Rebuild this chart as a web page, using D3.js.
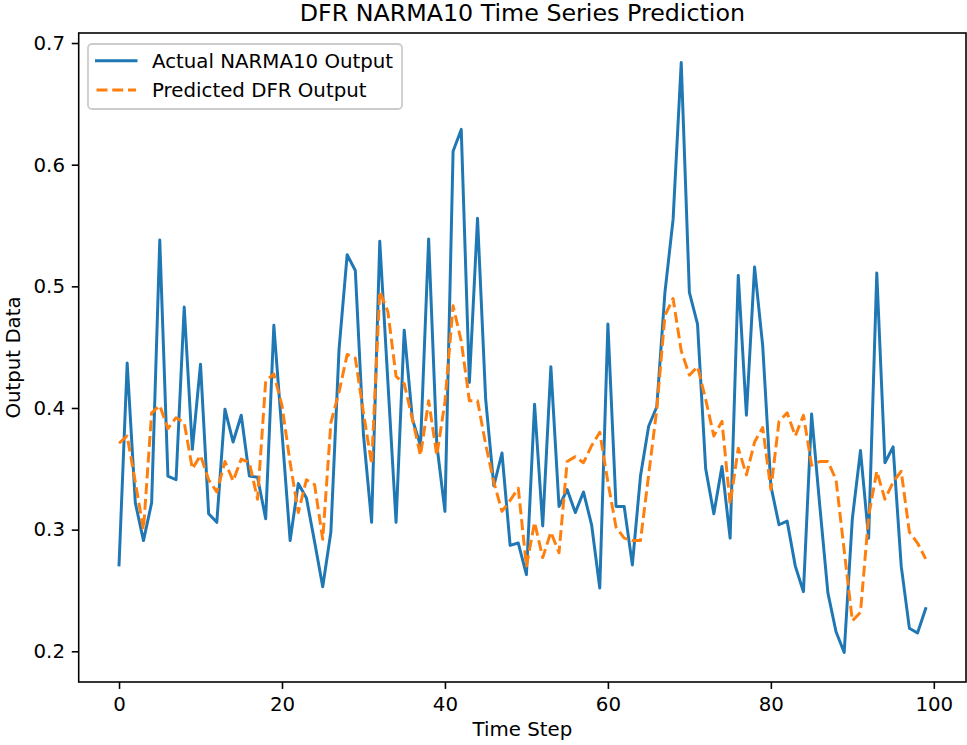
<!DOCTYPE html>
<html>
<head>
<meta charset="utf-8">
<script src="https://d3js.org/d3.v7.min.js"></script>
<style>
  body { margin: 0; background: #ffffff; }
  svg { display: block; font-family: 'DejaVu Sans', sans-serif; }
</style>
</head>
<body>
<div id="chart"></div>
<script>
// values
let timeSteps = d3.range(100);

let actualOutput = [
  0.271, 0.437, 0.322, 0.291, 0.322, 0.538, 0.344, 0.341, 0.483, 0.366,
  0.436, 0.313, 0.306, 0.399, 0.372, 0.394, 0.344, 0.343, 0.309, 0.468,
  0.380, 0.291, 0.338, 0.326, 0.290, 0.253, 0.298, 0.448, 0.526, 0.513,
  0.378, 0.306, 0.537, 0.421, 0.306, 0.464, 0.391, 0.369, 0.539, 0.370,
  0.315, 0.611, 0.629, 0.421, 0.556, 0.407, 0.336, 0.363, 0.287, 0.289,
  0.263, 0.403, 0.303, 0.434, 0.319, 0.333, 0.314, 0.331, 0.304, 0.252,
  0.469, 0.319, 0.319, 0.271, 0.344, 0.385, 0.401, 0.495, 0.555, 0.684,
  0.495, 0.469, 0.350, 0.313, 0.352, 0.293, 0.509, 0.394, 0.516, 0.451,
  0.336, 0.304, 0.307, 0.270, 0.249, 0.395, 0.320, 0.248, 0.216, 0.199,
  0.309, 0.365, 0.293, 0.511, 0.355, 0.368, 0.270, 0.219, 0.215, 0.235
];

let predictedOutput = [
  0.371, 0.377, 0.339, 0.300, 0.396, 0.402, 0.383, 0.392, 0.388, 0.350,
  0.361, 0.341, 0.331, 0.356, 0.340, 0.358, 0.355, 0.325, 0.422, 0.428,
  0.402, 0.355, 0.314, 0.341, 0.337, 0.292, 0.388, 0.413, 0.444, 0.441,
  0.396, 0.354, 0.496, 0.479, 0.426, 0.420, 0.391, 0.361, 0.406, 0.361,
  0.405, 0.484, 0.455, 0.406, 0.406, 0.370, 0.339, 0.315, 0.324, 0.334,
  0.270, 0.306, 0.277, 0.298, 0.281, 0.356, 0.360, 0.355, 0.369, 0.380,
  0.339, 0.302, 0.293, 0.291, 0.291, 0.345, 0.399, 0.476, 0.490, 0.447,
  0.427, 0.434, 0.407, 0.377, 0.389, 0.321, 0.367, 0.345, 0.372, 0.384,
  0.333, 0.389, 0.396, 0.377, 0.394, 0.353, 0.356, 0.356, 0.341, 0.283,
  0.225, 0.232, 0.311, 0.348, 0.325, 0.339, 0.348, 0.298, 0.289, 0.276
];

let xTickValues = [0, 20, 40, 60, 80, 100];
let yTickValues = [0.2, 0.3, 0.4, 0.5, 0.6, 0.7];
let seriesLabels = ['Actual NARMA10 Output', 'Predicted DFR Output'];

let width = 967, height = 745;
let margin = {top: 33, right: 1, bottom: 63, left: 78.7};
let pt = 1.98; // px per point

let svg = d3.select('#chart').append('svg')
  .attr('width', width)
  .attr('height', height);

svg.append('rect').attr('width', width).attr('height', height).attr('fill', '#ffffff');

// matplotlib style 5% padding on both axes
let xExt = d3.extent(timeSteps);
let xPad = (xExt[1] - xExt[0]) * 0.05;
let yExt = d3.extent(actualOutput.concat(predictedOutput));
let yPad = (yExt[1] - yExt[0]) * 0.05;

let xScale = d3.scaleLinear()
  .domain([xExt[0] - xPad, xExt[1] + xPad])
  .range([margin.left, width - margin.right]);

let yScale = d3.scaleLinear()
  .domain([yExt[0] - yPad, yExt[1] + yPad])
  .range([height - margin.bottom, margin.top]);

let color = d3.scaleOrdinal().domain(seriesLabels).range(['#1f77b4', '#ff7f0e']);

// lines
let line = d3.line()
  .x(function(d, i) { return xScale(timeSteps[i]); })
  .y(function(d) { return yScale(d); });

svg.append('path')
  .attr('d', line(actualOutput))
  .attr('fill', 'none')
  .attr('stroke', color(seriesLabels[0]))
  .attr('stroke-width', 1.5 * pt)
  .attr('stroke-linejoin', 'round')
  .attr('stroke-linecap', 'square');

svg.append('path')
  .attr('d', line(predictedOutput))
  .attr('fill', 'none')
  .attr('stroke', color(seriesLabels[1]))
  .attr('stroke-width', 1.5 * pt)
  .attr('stroke-linejoin', 'round')
  .attr('stroke-dasharray', (5.55 * pt) + ',' + (2.4 * pt));

// axes
let xAxis = d3.axisBottom(xScale)
  .tickValues(xTickValues)
  .tickFormat(d3.format('d'))
  .tickSize(3.5 * pt)
  .tickSizeOuter(0)
  .tickPadding(8.5);

let yAxis = d3.axisLeft(yScale)
  .tickValues(yTickValues)
  .tickFormat(d3.format('.1f'))
  .tickSize(3.5 * pt)
  .tickSizeOuter(0)
  .tickPadding(6.8);

let gx = svg.append('g')
  .attr('transform', 'translate(0,' + (height - margin.bottom) + ')')
  .call(xAxis);

let gy = svg.append('g')
  .attr('transform', 'translate(' + margin.left + ',0)')
  .call(yAxis);

[gx, gy].forEach(function(g) {
  g.select('.domain').remove();
  g.selectAll('.tick line').attr('stroke', '#000').attr('stroke-width', 0.8 * pt);
  g.selectAll('.tick text')
    .attr('fill', '#000')
    .style('font-family', "'DejaVu Sans', sans-serif")
    .style('font-size', (10 * pt) + 'px');
});

// spines
svg.append('rect')
  .attr('x', margin.left)
  .attr('y', margin.top)
  .attr('width', width - margin.right - margin.left)
  .attr('height', height - margin.bottom - margin.top)
  .attr('fill', 'none')
  .attr('stroke', '#000')
  .attr('stroke-width', 0.8 * pt);

// title and labels
let midX = (margin.left + width - margin.right) / 2;
let midY = (margin.top + height - margin.bottom) / 2;

svg.append('text')
  .attr('x', midX)
  .attr('y', 21.3)
  .attr('text-anchor', 'middle')
  .style('font-size', (12 * pt) + 'px')
  .text('DFR NARMA10 Time Series Prediction');

svg.append('text')
  .attr('x', midX)
  .attr('y', 736)
  .attr('text-anchor', 'middle')
  .style('font-size', (10 * pt) + 'px')
  .text('Time Step');

svg.append('text')
  .attr('transform', 'translate(20,' + midY + ') rotate(-90)')
  .attr('text-anchor', 'middle')
  .style('font-size', (10 * pt) + 'px')
  .text('Output Data');

// legend
let legend = svg.append('g');

legend.append('rect')
  .attr('x', 88)
  .attr('y', 44)
  .attr('width', 314)
  .attr('height', 65)
  .attr('rx', 4)
  .attr('fill', '#ffffff')
  .attr('fill-opacity', 0.8)
  .attr('stroke', '#cccccc')
  .attr('stroke-width', 1.8);

let items = legend.selectAll('.legend-item')
  .data(seriesLabels)
  .enter().append('g')
  .attr('class', 'legend-item')
  .attr('transform', function(d, i) { return 'translate(0,' + (60.7 + i * 29.3) + ')'; });

items.append('line')
  .attr('x1', 96.5)
  .attr('x2', 136)
  .attr('y1', 0)
  .attr('y2', 0)
  .attr('stroke', function(d) { return color(d); })
  .attr('stroke-width', 1.5 * pt)
  .attr('stroke-linecap', function(d, i) { return i === 0 ? 'square' : 'butt'; })
  .attr('stroke-dasharray', function(d, i) { return i === 0 ? null : (5.55 * pt) + ',' + (2.4 * pt); });

items.append('text')
  .attr('x', 152)
  .attr('y', 6.8)
  .style('font-size', (10 * pt) + 'px')
  .text(function(d) { return d; });
</script>
</body>
</html>
